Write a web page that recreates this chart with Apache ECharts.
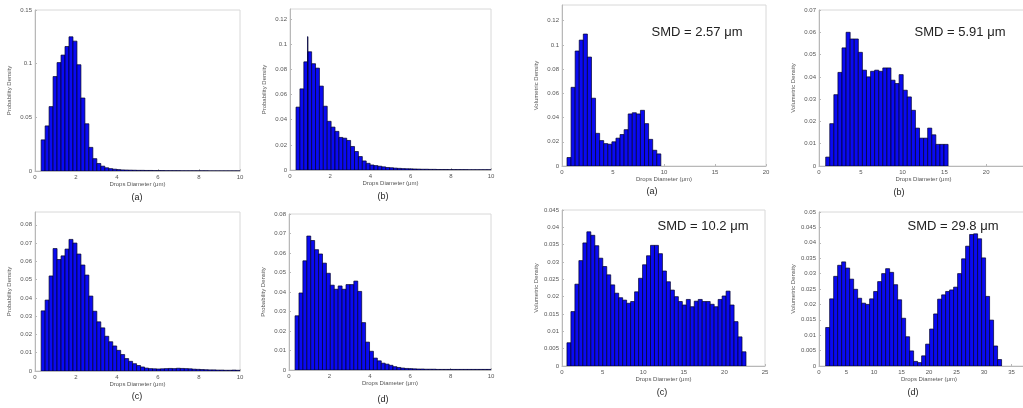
<!DOCTYPE html>
<html>
<head>
<meta charset="utf-8">
<script src="https://cdn.jsdelivr.net/npm/echarts@6/dist/echarts.min.js"></script>
<style>
  html, body { margin: 0; background: #fff; }
  #chart { width: 1023px; height: 408px; }
</style>
</head>
<body>
<div id="chart"></div>
<script>
// histogram bin heights
const probStart = 0.3, probWidth = 0.194;
const probA = [0.029, 0.042, 0.060, 0.088, 0.101, 0.108, 0.116, 0.125, 0.121, 0.099,
  0.068, 0.044, 0.022, 0.0115, 0.007, 0.0045, 0.003, 0.0022, 0.0017, 0.0013,
  0.001, 0.0009, 0.0008, 0.0007, 0.0006, 0.0006, 0.0005, 0.0005, 0.0004, 0.0004,
  0.0004, 0.0003, 0.0003, 0.0003, 0.0003, 0.0002, 0.0002, 0.0002, 0.0002, 0.0002,
  0.0002, 0.0002, 0.0001, 0.0001, 0.0001, 0.0001, 0.0001, 0.0001, 0.0001, 0.0001];
const probB = [0.050, 0.0645, 0.086, 0.094, 0.0845, 0.081, 0.0667, 0.0507, 0.0387, 0.0341,
  0.0307, 0.0259, 0.0253, 0.0235, 0.0187, 0.0147, 0.0107, 0.0072, 0.0053, 0.004,
  0.0035, 0.003, 0.0025, 0.002, 0.0018, 0.0015, 0.0013, 0.0011, 0.001, 0.0009,
  0.0008, 0.0007, 0.0006, 0.0006, 0.0005, 0.0005, 0.0004, 0.0004, 0.0004, 0.0003,
  0.0003, 0.0003, 0.0003, 0.0003, 0.0002, 0.0002, 0.0002, 0.0002, 0.0002, 0.0002];
const probBSpike = [[0.87, 0.895, 0.106]];
const probC = [0.0329, 0.0388, 0.052, 0.067, 0.061, 0.063, 0.0667, 0.072, 0.070, 0.064,
  0.058, 0.0525, 0.041, 0.0327, 0.0269, 0.0236, 0.019, 0.016, 0.0137, 0.0113,
  0.009, 0.0068, 0.0053, 0.004, 0.003, 0.0022, 0.0016, 0.0013, 0.0012, 0.0011,
  0.0012, 0.0013, 0.0014, 0.0013, 0.0015, 0.0014, 0.0013, 0.0012, 0.001, 0.0009,
  0.0008, 0.0007, 0.0006, 0.0006, 0.0005, 0.0005, 0.0004, 0.0004, 0.0005, 0.0004];
const probD = [0.0278, 0.0395, 0.056, 0.0687, 0.0664, 0.0617, 0.0595, 0.0548, 0.0496, 0.0435,
  0.0414, 0.0431, 0.0414, 0.0438, 0.0438, 0.0456, 0.0403, 0.0243, 0.0143, 0.0096,
  0.0061, 0.0047, 0.0035, 0.003, 0.0024, 0.0017, 0.0013, 0.001, 0.0008, 0.0007,
  0.0006, 0.0005, 0.0005, 0.0004, 0.0004, 0.0004, 0.0003, 0.0003, 0.0003, 0.0003,
  0.0003, 0.0003, 0.0003, 0.0003, 0.0003, 0.0003, 0.0003, 0.0003, 0.0003, 0.0003];

const volAStart = 0.49, volAWidth = 0.40;
const volA = [0.007, 0.065, 0.095, 0.104, 0.109, 0.090, 0.056, 0.027, 0.021, 0.0185,
  0.018, 0.020, 0.023, 0.026, 0.030, 0.043, 0.044, 0.043, 0.046, 0.035,
  0.022, 0.013, 0.010];
const volBStart = 0.8, volBWidth = 0.488;
const volB = [0.004, 0.019, 0.032, 0.042, 0.053, 0.060, 0.057, 0.057, 0.051, 0.043,
  0.040, 0.0425, 0.043, 0.0425, 0.044, 0.044, 0.0385, 0.037, 0.041, 0.034,
  0.031, 0.025, 0.017, 0.0125, 0.0125, 0.017, 0.014, 0.0097, 0.0097, 0.0097];
const volCStart = 0.61, volCWidth = 0.49;
const volC = [0.0067, 0.0157, 0.0236, 0.0304, 0.0355, 0.0387, 0.0377, 0.0347, 0.0311, 0.0287,
  0.0263, 0.0234, 0.021, 0.0197, 0.019, 0.0181, 0.0186, 0.0214, 0.0253, 0.0292,
  0.0318, 0.0348, 0.0348, 0.0324, 0.0274, 0.0243, 0.0219, 0.020, 0.0186, 0.0176,
  0.0192, 0.0171, 0.0187, 0.0192, 0.0186, 0.0186, 0.0178, 0.0171, 0.0192, 0.0202,
  0.0216, 0.0176, 0.0128, 0.0084, 0.0041];
const volDStart = 1.21, volDWidth = 0.727;
const volD = [0.0125, 0.0218, 0.0291, 0.0327, 0.0338, 0.0318, 0.0282, 0.0249, 0.022, 0.0204,
  0.020, 0.0218, 0.0242, 0.0274, 0.030, 0.0316, 0.0304, 0.0264, 0.0215, 0.0155,
  0.0095, 0.0049, 0.0015, 0.0011, 0.0033, 0.0071, 0.012, 0.0169, 0.0217, 0.0231,
  0.0242, 0.0247, 0.0256, 0.030, 0.0348, 0.0389, 0.0427, 0.0429, 0.0413, 0.0351,
  0.0226, 0.0149, 0.0065, 0.0021];

const smdLabels = ['SMD = 2.57 μm', 'SMD = 5.91 μm', 'SMD = 10.2 μm', 'SMD = 29.8 μm'];
const captions = ['(a)', '(b)', '(a)', '(b)', '(c)', '(d)', '(c)', '(d)'];

function toBins(start, width, heights) {
  return heights.map((h, i) => [start + i * width, start + (i + 1) * width, h]);
}

const panels = [
  { grid: { left: 35, top: 10, width: 205, height: 161 }, xMax: 10, xStep: 2, yMax: 0.15, yStep: 0.05, yName: 'Probability Density', bins: toBins(probStart, probWidth, probA), cap: [137, 198] },
  { grid: { left: 290, top: 9, width: 201, height: 161 }, xMax: 10, xStep: 2, yMax: 0.128, yStep: 0.02, yName: 'Probability Density', bins: toBins(probStart, probWidth, probB), cap: [383, 197], extra: probBSpike },
  { grid: { left: 562, top: 5, width: 204, height: 161 }, xMax: 20, xStep: 5, yMax: 0.133, yStep: 0.02, yName: 'Volumetric Density', bins: toBins(volAStart, volAWidth, volA), cap: [652, 192], smd: [697, 32] },
  { grid: { left: 819, top: 10, width: 209, height: 156 }, xMax: 25, xStep: 5, yMax: 0.07, yStep: 0.01, yName: 'Volumetric Density', bins: toBins(volBStart, volBWidth, volB), cap: [899, 193], smd: [960, 32] },
  { grid: { left: 35, top: 212, width: 205, height: 159 }, xMax: 10, xStep: 2, yMax: 0.087, yStep: 0.01, yName: 'Probability Density', bins: toBins(probStart, probWidth, probC), cap: [137, 397] },
  { grid: { left: 289, top: 214, width: 202, height: 156 }, xMax: 10, xStep: 2, yMax: 0.08, yStep: 0.01, yName: 'Probability Density', bins: toBins(probStart, probWidth, probD), cap: [383, 400] },
  { grid: { left: 562, top: 210, width: 203, height: 156 }, xMax: 25, xStep: 5, yMax: 0.045, yStep: 0.005, yName: 'Volumetric Density', bins: toBins(volCStart, volCWidth, volC), cap: [662, 393], smd: [703, 226] },
  { grid: { left: 819, top: 212, width: 220, height: 154 }, xMax: 40, xStep: 5, yMax: 0.05, yStep: 0.005, yName: 'Volumetric Density', bins: toBins(volDStart, volDWidth, volD), cap: [913, 393], smd: [953, 226] }
];

const font = 'Liberation Sans, Arial, sans-serif';
const axisGrey = '#b8b8b8';
const labelGrey = '#555';

function renderBar(params, api) {
  const p0 = api.coord([api.value(0), 0]);
  const p1 = api.coord([api.value(1), api.value(2)]);
  return {
    type: 'rect',
    shape: { x: p0[0], y: p1[1], width: p1[0] - p0[0], height: p0[1] - p1[1] },
    style: { fill: '#0a0af2', stroke: '#000028', lineWidth: 0.7 }
  };
}

const grids = [], xAxes = [], yAxes = [], series = [], graphics = [];
let smdIdx = 0;
panels.forEach((p, i) => {
  grids.push(Object.assign({ show: true, borderColor: '#d8d8d8', borderWidth: 1, backgroundColor: '#fff', outerBoundsMode: 'none', containLabel: false }, p.grid));
  xAxes.push({
    type: 'value', gridIndex: i, min: 0, max: p.xMax, interval: p.xStep,
    name: 'Drops Diameter (μm)', nameLocation: 'middle', nameGap: 10,
    nameTextStyle: { fontSize: 6, color: labelGrey, fontFamily: font },
    axisLine: { lineStyle: { color: axisGrey } },
    axisTick: { inside: true, length: 2, lineStyle: { color: axisGrey } },
    axisLabel: { fontSize: 6, color: labelGrey, margin: 3, fontFamily: font, showMaxLabel: true, hideOverlap: false },
    splitLine: { show: false }
  });
  yAxes.push({
    type: 'value', gridIndex: i, min: 0, max: p.yMax, interval: p.yStep,
    name: p.yName, nameLocation: 'middle', nameGap: 23,
    nameTextStyle: { fontSize: 6, color: labelGrey, fontFamily: font },
    axisLine: { show: true, lineStyle: { color: axisGrey } },
    axisTick: { show: true, inside: true, length: 2, lineStyle: { color: axisGrey } },
    axisLabel: { fontSize: 6, color: labelGrey, margin: 3, fontFamily: font, showMaxLabel: Math.abs(p.yMax / p.yStep - Math.round(p.yMax / p.yStep)) < 1e-6 },
    splitLine: { show: false }
  });
  series.push({
    type: 'custom', xAxisIndex: i, yAxisIndex: i, renderItem: renderBar,
    encode: { x: [0, 1], y: 2 }, data: p.bins, clip: true, silent: true
  });
  if (p.extra) {
    series.push({
      type: 'custom', xAxisIndex: i, yAxisIndex: i, renderItem: renderBar,
      encode: { x: [0, 1], y: 2 }, data: p.extra, clip: true, silent: true
    });
  }
  graphics.push({
    type: 'text', x: p.cap[0], y: p.cap[1],
    style: { text: captions[i], font: '9px ' + font, fill: '#222', textAlign: 'center', textVerticalAlign: 'middle' }
  });
  if (p.smd) {
    graphics.push({
      type: 'text', x: p.smd[0], y: p.smd[1],
      style: { text: smdLabels[smdIdx++], font: '13px ' + font, fill: '#222', textAlign: 'center', textVerticalAlign: 'middle' }
    });
  }
});

const chart = echarts.init(document.getElementById('chart'), null, { renderer: 'canvas' });
chart.setOption({
  backgroundColor: '#fff',
  animation: false,
  grid: grids,
  xAxis: xAxes,
  yAxis: yAxes,
  series: series,
  graphic: graphics
});
</script>
</body>
</html>
